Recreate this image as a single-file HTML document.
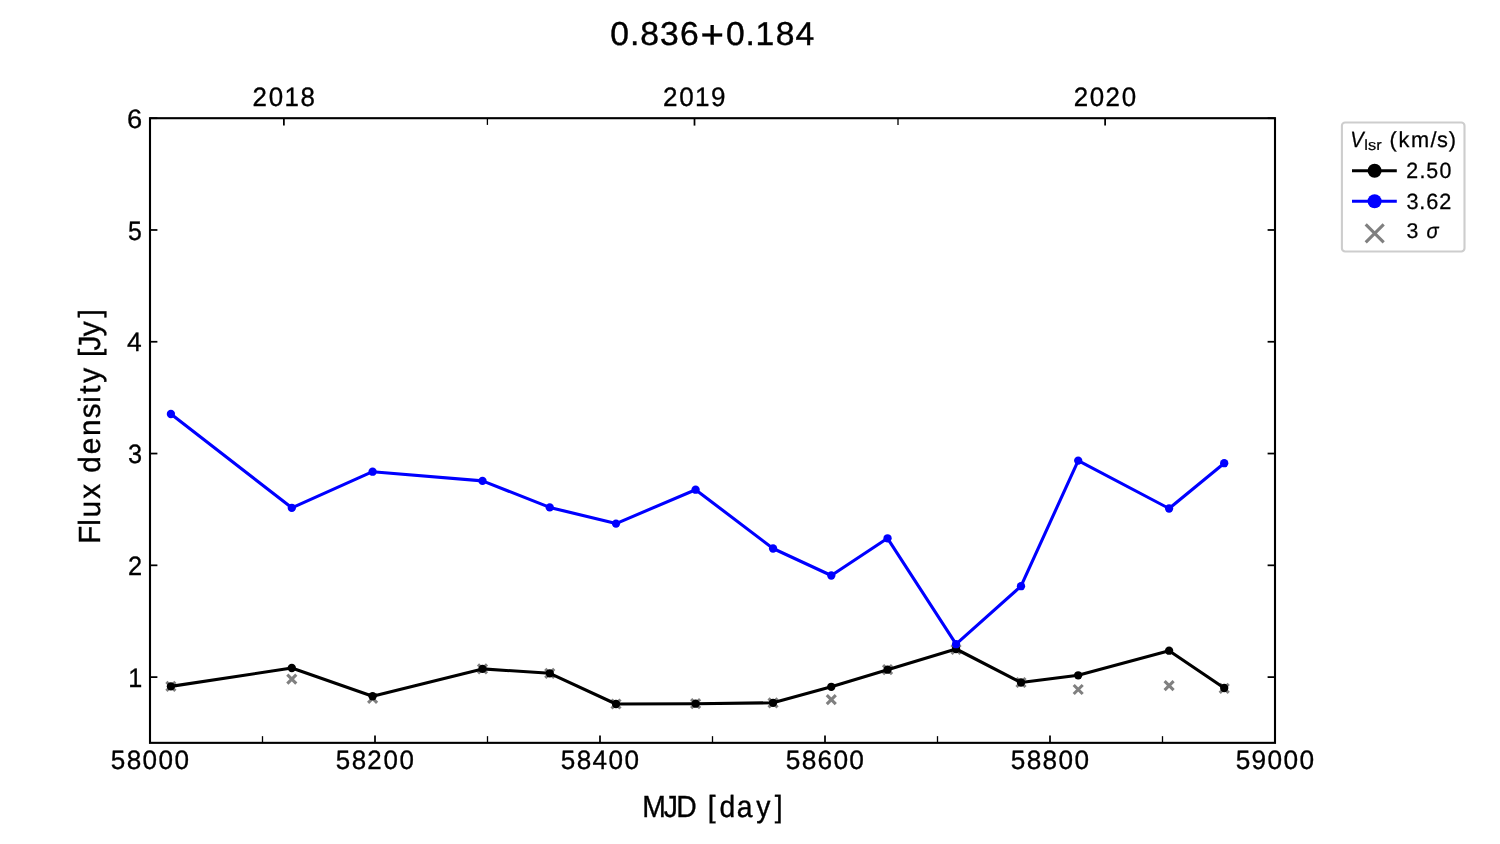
<!DOCTYPE html>
<html lang="en">
<head>
<meta charset="utf-8">
<title>0.836+0.184</title>
<style>
html,body{margin:0;padding:0;background:#fff;}
body{width:1500px;height:844px;overflow:hidden;font-family:"Liberation Sans",sans-serif;}
svg{display:block;will-change:transform;}
svg text{font-family:"Liberation Sans",sans-serif;fill:#000;text-rendering:geometricPrecision;}
</style>
</head>
<body>
<svg width="1500" height="844" viewBox="0 0 1500 844">
<rect x="0" y="0" width="1500" height="844" fill="#ffffff"/>
<g id="sigma">
<path d="M166.40 681.90L175.40 690.90M166.40 690.90L175.40 681.90" stroke="#808080" stroke-width="3.1" fill="none"/>
<path d="M287.30 674.70L296.30 683.70M287.30 683.70L296.30 674.70" stroke="#808080" stroke-width="3.1" fill="none"/>
<path d="M368.10 693.90L377.10 702.90M368.10 702.90L377.10 693.90" stroke="#808080" stroke-width="3.1" fill="none"/>
<path d="M478.00 664.40L487.00 673.40M478.00 673.40L487.00 664.40" stroke="#808080" stroke-width="3.1" fill="none"/>
<path d="M545.25 668.80L554.25 677.80M545.25 677.80L554.25 668.80" stroke="#808080" stroke-width="3.1" fill="none"/>
<path d="M611.50 699.50L620.50 708.50M611.50 708.50L620.50 699.50" stroke="#808080" stroke-width="3.1" fill="none"/>
<path d="M691.10 699.20L700.10 708.20M691.10 708.20L700.10 699.20" stroke="#808080" stroke-width="3.1" fill="none"/>
<path d="M768.55 698.30L777.55 707.30M768.55 707.30L777.55 698.30" stroke="#808080" stroke-width="3.1" fill="none"/>
<path d="M826.80 695.20L835.80 704.20M826.80 704.20L835.80 695.20" stroke="#808080" stroke-width="3.1" fill="none"/>
<path d="M883.05 665.20L892.05 674.20M883.05 674.20L892.05 665.20" stroke="#808080" stroke-width="3.1" fill="none"/>
<path d="M951.55 645.00L960.55 654.00M951.55 654.00L960.55 645.00" stroke="#808080" stroke-width="3.1" fill="none"/>
<path d="M1016.50 678.00L1025.50 687.00M1016.50 687.00L1025.50 678.00" stroke="#808080" stroke-width="3.1" fill="none"/>
<path d="M1073.70 685.00L1082.70 694.00M1073.70 694.00L1082.70 685.00" stroke="#808080" stroke-width="3.1" fill="none"/>
<path d="M1164.60 681.10L1173.60 690.10M1164.60 690.10L1173.60 681.10" stroke="#808080" stroke-width="3.1" fill="none"/>
<path d="M1219.70 683.80L1228.70 692.80M1219.70 692.80L1228.70 683.80" stroke="#808080" stroke-width="3.1" fill="none"/>
</g>
<g id="s250">
<polyline points="170.90,686.40 291.80,668.00 372.60,696.20 482.50,668.90 549.75,673.30 616.00,704.00 695.60,703.70 773.05,702.80 831.30,686.80 887.55,669.70 956.05,649.00 1021.00,682.50 1078.20,675.30 1169.10,650.70 1224.20,688.00" fill="none" stroke="#000000" stroke-width="3.1" stroke-linejoin="round" stroke-linecap="butt"/>
<circle cx="170.90" cy="686.40" r="4.15" fill="#000000"/>
<circle cx="291.80" cy="668.00" r="4.15" fill="#000000"/>
<circle cx="372.60" cy="696.20" r="4.15" fill="#000000"/>
<circle cx="482.50" cy="668.90" r="4.15" fill="#000000"/>
<circle cx="549.75" cy="673.30" r="4.15" fill="#000000"/>
<circle cx="616.00" cy="704.00" r="4.15" fill="#000000"/>
<circle cx="695.60" cy="703.70" r="4.15" fill="#000000"/>
<circle cx="773.05" cy="702.80" r="4.15" fill="#000000"/>
<circle cx="831.30" cy="686.80" r="4.15" fill="#000000"/>
<circle cx="887.55" cy="669.70" r="4.15" fill="#000000"/>
<circle cx="956.05" cy="649.00" r="4.15" fill="#000000"/>
<circle cx="1021.00" cy="682.50" r="4.15" fill="#000000"/>
<circle cx="1078.20" cy="675.30" r="4.15" fill="#000000"/>
<circle cx="1169.10" cy="650.70" r="4.15" fill="#000000"/>
<circle cx="1224.20" cy="688.00" r="4.15" fill="#000000"/>
</g>
<g id="s362">
<polyline points="170.90,414.00 291.80,507.80 372.60,471.70 482.50,480.90 549.75,507.40 616.00,523.60 695.60,489.70 773.05,548.50 831.30,575.50 887.55,538.30 956.05,644.20 1021.00,586.20 1078.20,460.60 1169.10,508.50 1224.20,463.20" fill="none" stroke="#0000ff" stroke-width="3.1" stroke-linejoin="round" stroke-linecap="butt"/>
<circle cx="170.90" cy="414.00" r="4.15" fill="#0000ff"/>
<circle cx="291.80" cy="507.80" r="4.15" fill="#0000ff"/>
<circle cx="372.60" cy="471.70" r="4.15" fill="#0000ff"/>
<circle cx="482.50" cy="480.90" r="4.15" fill="#0000ff"/>
<circle cx="549.75" cy="507.40" r="4.15" fill="#0000ff"/>
<circle cx="616.00" cy="523.60" r="4.15" fill="#0000ff"/>
<circle cx="695.60" cy="489.70" r="4.15" fill="#0000ff"/>
<circle cx="773.05" cy="548.50" r="4.15" fill="#0000ff"/>
<circle cx="831.30" cy="575.50" r="4.15" fill="#0000ff"/>
<circle cx="887.55" cy="538.30" r="4.15" fill="#0000ff"/>
<circle cx="956.05" cy="644.20" r="4.15" fill="#0000ff"/>
<circle cx="1021.00" cy="586.20" r="4.15" fill="#0000ff"/>
<circle cx="1078.20" cy="460.60" r="4.15" fill="#0000ff"/>
<circle cx="1169.10" cy="508.50" r="4.15" fill="#0000ff"/>
<circle cx="1224.20" cy="463.20" r="4.15" fill="#0000ff"/>
</g>
<g id="ticks" stroke="#000" stroke-width="1.75">
<line x1="150.00" y1="742.85" x2="150.00" y2="735.45"/>
<line x1="375.00" y1="742.85" x2="375.00" y2="735.45"/>
<line x1="600.00" y1="742.85" x2="600.00" y2="735.45"/>
<line x1="825.00" y1="742.85" x2="825.00" y2="735.45"/>
<line x1="1050.00" y1="742.85" x2="1050.00" y2="735.45"/>
<line x1="1275.00" y1="742.85" x2="1275.00" y2="735.45"/>
<line x1="283.88" y1="118.2" x2="283.88" y2="125.60"/>
<line x1="694.50" y1="118.2" x2="694.50" y2="125.60"/>
<line x1="1105.12" y1="118.2" x2="1105.12" y2="125.60"/>
<line x1="150.0" y1="677.10" x2="157.40" y2="677.10"/>
<line x1="1275.0" y1="677.10" x2="1267.60" y2="677.10"/>
<line x1="150.0" y1="565.32" x2="157.40" y2="565.32"/>
<line x1="1275.0" y1="565.32" x2="1267.60" y2="565.32"/>
<line x1="150.0" y1="453.54" x2="157.40" y2="453.54"/>
<line x1="1275.0" y1="453.54" x2="1267.60" y2="453.54"/>
<line x1="150.0" y1="341.76" x2="157.40" y2="341.76"/>
<line x1="1275.0" y1="341.76" x2="1267.60" y2="341.76"/>
<line x1="150.0" y1="229.98" x2="157.40" y2="229.98"/>
<line x1="1275.0" y1="229.98" x2="1267.60" y2="229.98"/>
<line x1="150.0" y1="118.20" x2="157.40" y2="118.20"/>
<line x1="1275.0" y1="118.20" x2="1267.60" y2="118.20"/>
</g>
<g id="minorticks" stroke="#000" stroke-width="1.3">
<line x1="262.50" y1="742.85" x2="262.50" y2="736.15"/>
<line x1="487.50" y1="742.85" x2="487.50" y2="736.15"/>
<line x1="712.50" y1="742.85" x2="712.50" y2="736.15"/>
<line x1="937.50" y1="742.85" x2="937.50" y2="736.15"/>
<line x1="1162.50" y1="742.85" x2="1162.50" y2="736.15"/>
<line x1="487.40" y1="118.2" x2="487.40" y2="124.90"/>
<line x1="898.00" y1="118.2" x2="898.00" y2="124.90"/>
</g>
<rect id="frame" x="150.0" y="118.2" width="1125.0" height="624.65" fill="none" stroke="#000" stroke-width="2.1"/>
<g id="labels">
<text id="title" transform="translate(0 45.00) scale(1.0151 1.0000)" font-size="33.19" x="601.25 620.55 630.62 650.25 669.79 690.15 715.17 734.47 744.37 764.13 783.71" y="0" stroke="#000" stroke-width="0.40" >0.836<tspan font-size="39.66" y="3.39">+</tspan><tspan y="0">0.184</tspan></text>
<text id="yr0" transform="translate(0 106.00) scale(0.9760 1.0000)" font-size="26.55" x="258.63 275.27 291.43 307.86" y="0" stroke="#000" stroke-width="0.32" >2018</text>
<text id="yr1" transform="translate(0 106.00) scale(0.9814 1.0000)" font-size="26.55" x="675.60 692.14 708.22 724.47" y="0" stroke="#000" stroke-width="0.32" >2019</text>
<text id="yr2" transform="translate(0 106.00) scale(0.9751 1.0000)" font-size="26.55" x="1101.05 1117.70 1133.68 1150.33" y="0" stroke="#000" stroke-width="0.32" >2020</text>
<text id="xt0" transform="translate(0 769.00) scale(0.9836 1.0000)" font-size="26.55" x="112.54 128.81 144.98 161.15 177.32" y="0" stroke="#000" stroke-width="0.32" >58000</text>
<text id="xt1" transform="translate(0 769.00) scale(0.9766 1.0000)" font-size="26.55" x="343.80 360.18 376.13 392.76 409.05" y="0" stroke="#000" stroke-width="0.32" >58200</text>
<text id="xt2" transform="translate(0 769.00) scale(0.9837 1.0000)" font-size="26.55" x="569.98 586.24 602.41 618.58 634.75" y="0" stroke="#000" stroke-width="0.32" >58400</text>
<text id="xt3" transform="translate(0 769.00) scale(0.9903 1.0000)" font-size="26.55" x="793.33 809.49 825.55 841.61 857.67" y="0" stroke="#000" stroke-width="0.32" >58600</text>
<text id="xt4" transform="translate(0 769.00) scale(0.9857 1.0000)" font-size="26.55" x="1025.36 1041.59 1057.73 1073.86 1090.00" y="0" stroke="#000" stroke-width="0.32" >58800</text>
<text id="xt5" transform="translate(0 769.00) scale(0.9878 1.0000)" font-size="26.55" x="1250.93 1267.05 1283.24 1299.34 1315.44" y="0" stroke="#000" stroke-width="0.32" >59000</text>
<text id="yt1" transform="translate(0 687.00) scale(0.9480 1.0000)" font-size="26.55" x="135.16" y="0" stroke="#000" stroke-width="0.32" >1</text>
<text id="yt2" transform="translate(0 575.00) scale(0.9568 1.0000)" font-size="26.55" x="133.84" y="0" stroke="#000" stroke-width="0.32" >2</text>
<text id="yt3" transform="translate(0 463.00) scale(0.9533 1.0000)" font-size="26.55" x="134.21" y="0" stroke="#000" stroke-width="0.32" >3</text>
<text id="yt4" transform="translate(0 351.00) scale(0.9927 1.0000)" font-size="26.55" x="127.95" y="0" stroke="#000" stroke-width="0.32" >4</text>
<text id="yt5" transform="translate(0 240.00) scale(0.9368 1.0000)" font-size="26.55" x="136.76" y="0" stroke="#000" stroke-width="0.32" >5</text>
<text id="yt6" transform="translate(0 128.00) scale(1.0273 1.0000)" font-size="26.55" x="123.55" y="0" stroke="#000" stroke-width="0.32" >6</text>
<text id="xlabel" transform="translate(0 817.00) scale(0.9265 1.0000)" font-size="30.57" x="693.29 716.38 730.00 753.03 763.77 776.56 795.25 816.17 836.15" y="0" stroke="#000" stroke-width="0.37" >MJD [day]</text>
<text id="ylabel" transform="translate(100.00 0) rotate(-90) scale(0.9764 1.0000)" font-size="30.57" x="-557.17 -538.47 -530.03 -510.90 -494.38 -484.10 -465.21 -446.57 -428.35 -412.39 -403.34 -391.98 -375.52 -365.60 -358.98 -344.41 -325.23" y="0" stroke="#000" stroke-width="0.37" >Flux density [Jy]</text>
</g>
<g id="legend">
<rect x="1341.9" y="122.45" width="122.6" height="129.1" rx="3.2" ry="3.2" fill="#ffffff" stroke="#cdcdcd" stroke-width="2.1"/>
<line x1="1352.0" y1="170.7" x2="1396.8" y2="170.7" stroke="#000" stroke-width="3.1"/>
<circle cx="1374.6" cy="170.7" r="7.0" fill="#000"/>
<line x1="1352.0" y1="201.3" x2="1396.8" y2="201.3" stroke="#0000ff" stroke-width="3.1"/>
<circle cx="1374.6" cy="201.3" r="7.0" fill="#0000ff"/>
<path d="M1365.70 224.45L1383.70 242.45M1365.70 242.45L1383.70 224.45" stroke="#808080" stroke-width="3.1" fill="none"/>
<text id="lgV" transform="translate(1350.17 147.00) scale(0.9580 1.0550)" font-size="21.0" text-anchor="start" font-style="italic" stroke="#000" stroke-width="0.25">V</text>
<text id="lgsub" transform="translate(1364.30 150.00) scale(1.1200 1.0140)" font-size="14.7" text-anchor="start"  stroke="#000" stroke-width="0.18">lsr</text>
<text id="lgunit" transform="translate(0 147.00) scale(0.9975 1.0000)" font-size="21.83" x="1393.03 1402.01 1414.44 1434.05 1440.71 1452.41" y="0" stroke="#000" stroke-width="0.26" >(km/s)</text>
<text id="lg1" transform="translate(0 178.00) scale(0.9659 1.0000)" font-size="22.12" x="1455.93 1469.52 1476.63 1490.38" y="0" stroke="#000" stroke-width="0.27" >2.50</text>
<text id="lg2" transform="translate(0 209.00) scale(0.9816 1.0000)" font-size="22.12" x="1432.81 1445.93 1452.96 1466.12" y="0" stroke="#000" stroke-width="0.27" >3.62</text>
<text id="lg3" transform="translate(1406.42 238.00) scale(1.0070 1.0060)" font-size="21.2" text-anchor="start"  stroke="#000" stroke-width="0.25">3</text>
<text id="lgsig" transform="translate(1426.60 238.00) scale(0.9460 0.9950)" font-size="21.2" text-anchor="start" font-style="italic" stroke="#000" stroke-width="0.25">σ</text>
</g>
</svg>
</body>
</html>
